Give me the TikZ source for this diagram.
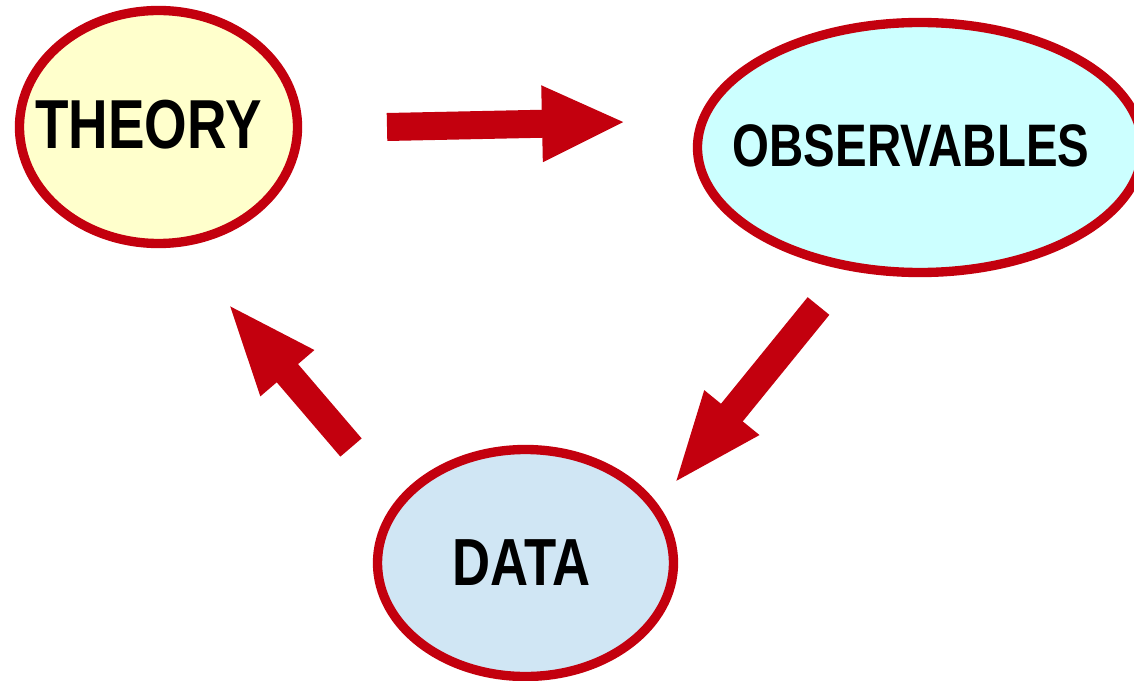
\documentclass[tikz,border=0pt]{standalone}
\usepackage{fontspec}
\setmainfont{Liberation Sans}
\newfontfamily\labelfont[FakeStretch=0.79]{Liberation Sans}
\usetikzlibrary{shapes.geometric,arrows.meta}

\definecolor{rimred}{HTML}{C3000E}
\definecolor{theoryfill}{HTML}{FFFFCC}
\definecolor{obsfill}{HTML}{CCFFFF}
\definecolor{datafill}{HTML}{D0E6F4}

\tikzset{
  bubble/.style={ellipse, draw=rimred, line width=7pt, inner sep=0pt},
  bubbletext/.style={font=\labelfont\bfseries\fontsize{#1}{#1}\selectfont, inner sep=0pt, anchor=center},
  fatarrow/.style 2 args={draw=rimred, line width=21pt, line cap=butt,
    -{Triangle[length=#1, width=#2]}}
}

\begin{document}
\begin{tikzpicture}[x=0.75pt, y=-0.75pt]
  \clip (0,0) rectangle (1134,681);
  \fill[white] (0,0) rectangle (1134,681);

  % the three stages of the cycle
  \node[bubble, fill=theoryfill, minimum width=208.5pt, minimum height=174.75pt] (theory) at (158.5,127) {};
  \node[bubble, fill=obsfill, minimum width=333.75pt, minimum height=187.5pt] (obs) at (920,147.5) {};
  \node[bubble, fill=datafill, minimum width=222pt, minimum height=170.25pt] (data) at (525.5,563) {};

  \node[bubbletext=52pt] (theorytext) at (148.5,124.5) {THEORY};
  \node[bubbletext=45pt] (obstext) at (911,145.5) {OBSERVABLES};
  \node[bubbletext=50pt] (datatext) at (521.5,562.5) {DATA};

  % arrow end points between the stages
  \coordinate (a1s) at (387,127);
  \coordinate (a1e) at (626,122);
  \coordinate (a2s) at (818.5,306);
  \coordinate (a2e) at (673,485);
  \coordinate (a3s) at (351,447.5);
  \coordinate (a3e) at (226.7,302.3);

  \draw[fatarrow={63pt}{52.5pt}] (a1s) -- (a1e);
  \draw[fatarrow={70pt}{47.25pt}] (a2s) -- (a2e);
  \draw[fatarrow={70pt}{47.25pt}] (a3s) -- (a3e);
\end{tikzpicture}
\end{document}
